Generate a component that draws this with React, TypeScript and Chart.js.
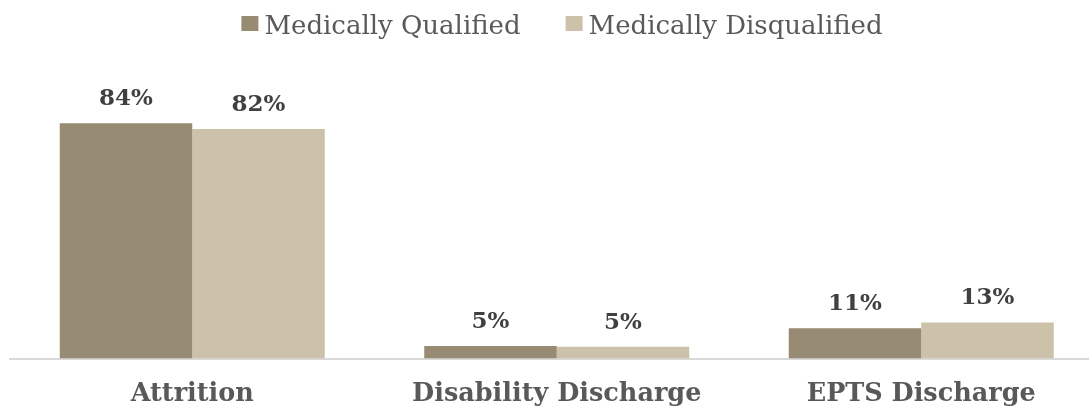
import React, { useEffect, useRef } from "react";
import { Chart, registerables } from "chart.js";

Chart.register(...registerables);

const categories = ["Attrition", "Disability Discharge", "EPTS Discharge"];
const seriesNames = ["Medically Qualified", "Medically Disqualified"];
const qualifiedValues = [84, 4.5, 10.8];
const disqualifiedValues = [82, 4.2, 12.9];
const qualifiedLabels = ["84%", "5%", "11%"];
const disqualifiedLabels = ["82%", "5%", "13%"];
const seriesColors = ["#978B73", "#CCC2A9"];

const FONT = "'DejaVu Serif', 'Liberation Serif', serif";

const valueLabelPlugin = {
  id: "valueLabels",
  afterDatasetsDraw(chart: any) {
    const ctx = chart.ctx;
    const labelSets = [qualifiedLabels, disqualifiedLabels];
    ctx.save();
    ctx.font = `bold 23px ${FONT}`;
    ctx.fillStyle = "#404040";
    ctx.textAlign = "center";
    ctx.textBaseline = "alphabetic";
    chart.data.datasets.forEach((_: any, di: number) => {
      const meta = chart.getDatasetMeta(di);
      meta.data.forEach((bar: any, i: number) => {
        ctx.fillText(labelSets[di][i], bar.x, bar.y - 18);
      });
    });
    ctx.restore();
  },
};

const legendPlugin = {
  id: "customLegend",
  afterDraw(chart: any) {
    const ctx = chart.ctx;
    ctx.save();
    ctx.font = `26px ${FONT}`;
    const boxW = 17;
    const boxH = 15;
    const gapText = 6;
    const gapItem = 45;
    const widths = seriesNames.map((n) => ctx.measureText(n).width);
    const total = widths.reduce((a, w) => a + boxW + gapText + w, 0) + gapItem * (seriesNames.length - 1);
    let x = 562 - total / 2;
    ctx.textAlign = "left";
    ctx.textBaseline = "alphabetic";
    seriesNames.forEach((n, i) => {
      ctx.fillStyle = seriesColors[i];
      ctx.fillRect(x, 16, boxW, boxH);
      x += boxW + gapText;
      ctx.fillStyle = "#595959";
      ctx.fillText(n, x, 34);
      x += widths[i] + gapItem;
    });
    ctx.restore();
  },
};

export default function App() {
  const ref = useRef<HTMLCanvasElement | null>(null);
  useEffect(() => {
    if (!ref.current) return;
    const chart = new Chart(ref.current, {
      type: "bar",
      data: {
        labels: categories,
        datasets: [
          {
            label: seriesNames[0],
            data: qualifiedValues,
            backgroundColor: seriesColors[0],
            barPercentage: 1,
            categoryPercentage: 0.727,
          },
          {
            label: seriesNames[1],
            data: disqualifiedValues,
            backgroundColor: seriesColors[1],
            barPercentage: 1,
            categoryPercentage: 0.727,
          },
        ],
      },
      options: {
        responsive: false,
        animation: false,
        layout: { padding: { left: 10, right: 16.5, top: 78.5, bottom: 0 } },
        plugins: {
          legend: { display: false },
          tooltip: { enabled: false },
        },
        scales: {
          x: {
            grid: { display: false },
            border: { display: true, color: "#D9D9D9", width: 2 },
            ticks: {
              color: "#595959",
              font: { family: FONT, size: 25.5, weight: "bold" },
              padding: 13,
            },
            afterFit(scale: any) {
              scale.height = 50.5;
            },
          },
          y: {
            display: false,
            min: 0,
            max: 100,
          },
        },
      },
      plugins: [valueLabelPlugin, legendPlugin],
    });
    return () => chart.destroy();
  }, []);
  return (
    <div
      style={{
        position: "fixed",
        left: 0,
        top: 0,
        width: 1089,
        height: 409,
        overflow: "hidden",
        background: "#ffffff",
      }}
    >
      <canvas ref={ref} width={1120} height={409} style={{ display: "block" }} />
    </div>
  );
}
